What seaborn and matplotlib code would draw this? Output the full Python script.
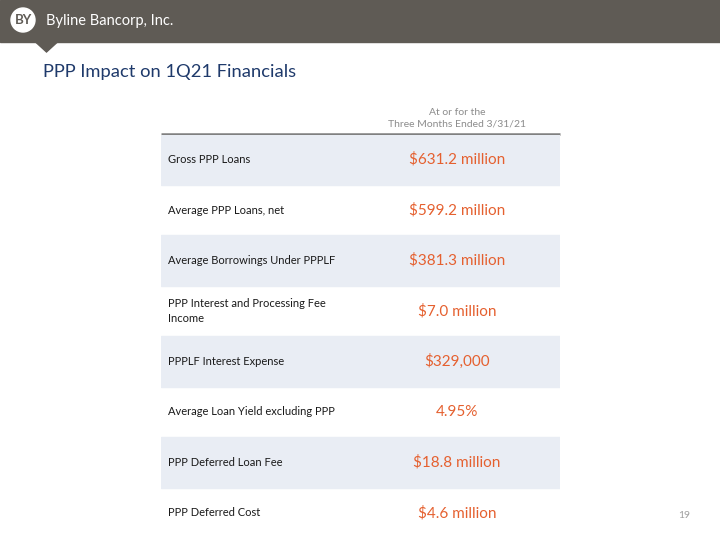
import matplotlib
matplotlib.use("Agg")
import matplotlib.pyplot as plt
from matplotlib.patches import Polygon, Circle
import seaborn as sns

# table content
row_labels = [
    "Gross PPP Loans",
    "Average PPP Loans, net",
    "Average Borrowings Under PPPLF",
    "PPP Interest and Processing Fee\nIncome",
    "PPPLF Interest Expense",
    "Average Loan Yield excluding PPP",
    "PPP Deferred Loan Fee",
    "PPP Deferred Cost",
]
row_values = [
    "$631.2 million",
    "$599.2 million",
    "$381.3 million",
    "$7.0 million",
    "$329,000",
    "4.95%",
    "$18.8 million",
    "$4.6 million",
]
col_header = "At or for the\nThree Months Ended 3/31/21"
title = "PPP Impact on 1Q21 Financials"
company = "Byline Bancorp, Inc."
page_no = "19"

sns.set_theme(style="white")
plt.rcParams['font.family'] = ['Lato', 'DejaVu Sans']

band_gray = "#5f5b55"
navy = "#1f3a6b"
orange = "#e5602f"
shade = "#e9edf4"

fig = plt.figure(figsize=(7.2, 5.4), dpi=100)

# background axes in pixel coords
bg = fig.add_axes([0, 0, 1, 1])
bg.set_xlim(0, 720)
bg.set_ylim(540, 0)
bg.axis("off")

bg.axhspan(0, 42, color=band_gray, zorder=0)
bg.add_patch(Polygon([[35, 41.5], [58, 41.5], [46.5, 52]], closed=True,
                     color=band_gray, zorder=0))
bg.add_patch(Circle((23, 20), 12, color="white", zorder=1))
bg.text(23, 20.5, "BY", ha="center", va="center", color=band_gray,
        fontsize=9.5, fontweight="bold", zorder=2)
bg.text(46, 20.5, company, ha="left", va="center", color="white",
        fontsize=10.5, zorder=2)
bg.text(43, 72, title, ha="left", va="center", color=navy, fontsize=13.2)
bg.text(457, 118, col_header, ha="center", va="center", color="#8c8c8c",
        fontsize=7.5, linespacing=1.35)
bg.plot([161, 560], [133.5, 133.5], color="#808080", lw=1.8,
        solid_capstyle="butt")
bg.text(684, 515, page_no, ha="center", va="center", color="#a0a0a0",
        fontsize=7.5)

# table axes
left, right, top, bottom = 161, 560, 134.5, 538
ax = fig.add_axes([left / 720, 1 - bottom / 540,
                   (right - left) / 720, (bottom - top) / 540])
n = len(row_labels)
ax.set_xlim(0, right - left)
ax.set_ylim(n, 0)
ax.axis("off")

for i, (lab, val) in enumerate(zip(row_labels, row_values)):
    if i % 2 == 0:
        ax.axhspan(i, i + 1, color=shade, zorder=0)
    ax.text(7, i + 0.5, lab, ha="left", va="center", color="#1a1a1a",
            fontsize=8, linespacing=1.45)
    ax.text(296, i + 0.5, val, ha="center", va="center", color=orange,
            fontsize=11)

fig.savefig("out.png", dpi=100)
